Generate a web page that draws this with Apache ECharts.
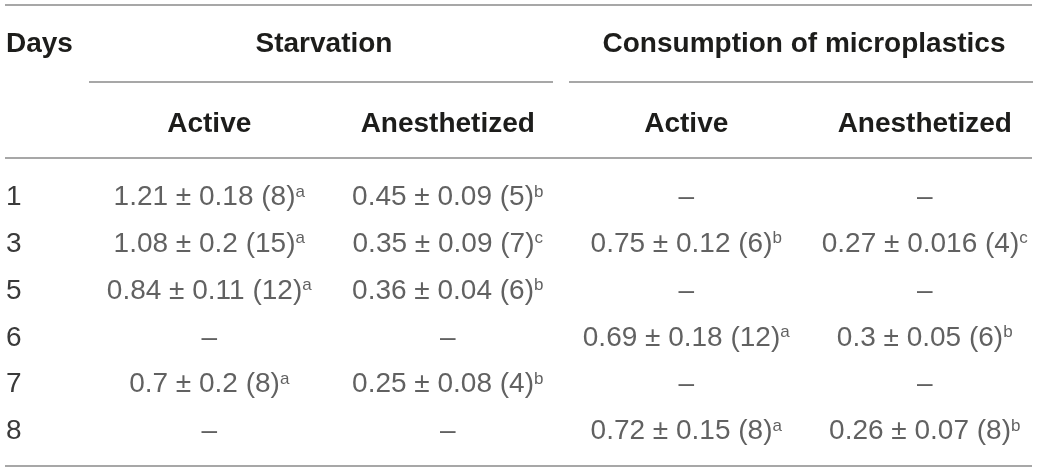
<!DOCTYPE html>
<html>
<head>
<meta charset="utf-8">
<script src="https://cdn.jsdelivr.net/npm/echarts@6/dist/echarts.min.js"></script>
<style>
    html, body { margin: 0; padding: 0; background: #ffffff; }
    #table_box { width: 1044px; height: 472px; }
</style>
</head>
<body>
<div id="table_box"></div>
<script>
//表格数据 - 开始
var days = ['1', '3', '5', '6', '7', '8'];                  //行：天数
var groups = ['Starvation', 'Consumption of microplastics']; //分组表头
var colKeys = ['st_act', 'st_ane', 'mp_act', 'mp_ane'];     //列
var subHeads = ['Active', 'Anesthetized', 'Active', 'Anesthetized'];

var stActMean = [1.21, 1.08, 0.84, null, 0.7, null];
var stActSd = [0.18, 0.2, 0.11, null, 0.2, null];
var stActN = [8, 15, 12, null, 8, null];
var stActSig = ['a', 'a', 'a', null, 'a', null];

var stAneMean = [0.45, 0.35, 0.36, null, 0.25, null];
var stAneSd = [0.09, 0.09, 0.04, null, 0.08, null];
var stAneN = [5, 7, 6, null, 4, null];
var stAneSig = ['b', 'c', 'b', null, 'b', null];

var mpActMean = [null, 0.75, null, 0.69, null, 0.72];
var mpActSd = [null, 0.12, null, 0.18, null, 0.15];
var mpActN = [null, 6, null, 12, null, 8];
var mpActSig = [null, 'b', null, 'a', null, 'a'];

var mpAneMean = [null, 0.27, null, 0.3, null, 0.26];
var mpAneSd = [null, 0.016, null, 0.05, null, 0.07];
var mpAneN = [null, 4, null, 6, null, 8];
var mpAneSig = [null, 'c', null, 'b', null, 'b'];
//表格数据 - 结束

var HEAD_FONT = 'Liberation Sans, Arial, sans-serif';
var BODY_FONT = 'Liberation Sans, Arial, sans-serif';
var BODY_COLOR = '#3a3a3a';
var HEAD_COLOR = '#1d1d1b';
var RULE_COLOR = '#8a8a8a';

var columns = [
    [stActMean, stActSd, stActN, stActSig],
    [stAneMean, stAneSd, stAneN, stAneSig],
    [mpActMean, mpActSd, mpActN, mpActSig],
    [mpAneMean, mpAneSd, mpAneN, mpAneSig]
];

var cells = [];     //[列, 行, 文本]
for (var c = 0; c < columns.length; c++) {
    for (var r = 0; r < days.length; r++) {
        var m = columns[c][0][r];
        var txt;
        if (m == null) {
            txt = '{v|–}';
        } else {
            txt = '{v|' + m + ' ± ' + columns[c][1][r] + ' (' + columns[c][2][r] + ')}{s|' + columns[c][3][r] + '}';
        }
        cells.push([c, r, txt]);
    }
}

function hRule(y) {     //横线
    return {
        type: 'line',
        shape: { x1: 5, y1: y, x2: 1032, y2: y },
        style: { stroke: RULE_COLOR, lineWidth: 1.5 },
        silent: true
    };
}

var chart = echarts.init(document.getElementById('table_box'));

var option = {
    backgroundColor: '#ffffff',
    animation: false,
    grid: [
        { left: 90, right: -6, top: 174, bottom: 17 },         //表体
        { left: 84, right: 0, top: 0, height: 100 }            //分组表头
    ],
    xAxis: [{
        type: 'category',
        gridIndex: 0,
        position: 'top',
        data: colKeys,
        axisLine: { show: false },
        axisTick: { show: false },
        axisLabel: {
            margin: 50,
            verticalAlign: 'middle',
            fontFamily: HEAD_FONT,
            fontWeight: 'bold',
            fontSize: 28,
            color: HEAD_COLOR,
            formatter: function (v, i) { return subHeads[i]; }
        }
    }, {
        type: 'category',
        gridIndex: 1,
        data: groups,
        show: false
    }],
    yAxis: [{
        type: 'category',
        gridIndex: 0,
        inverse: true,
        data: days,
        axisLine: { show: false },
        axisTick: { show: false },
        axisLabel: {
            align: 'left',
            margin: 84,
            fontFamily: BODY_FONT,
            fontSize: 28,
            color: BODY_COLOR
        }
    }, {
        type: 'value',
        gridIndex: 1,
        min: 0,
        max: 1,
        show: false
    }],
    series: [{
        type: 'scatter',
        xAxisIndex: 0,
        yAxisIndex: 0,
        symbolSize: 0,
        data: cells,
        label: {
            show: true,
            position: 'inside',
            formatter: function (p) { return p.data[2]; },
            rich: {
                v: { fontFamily: BODY_FONT, fontSize: 28, lineHeight: 28, color: BODY_COLOR },
                s: { fontFamily: BODY_FONT, fontSize: 17, lineHeight: 17, verticalAlign: 'top', color: BODY_COLOR }
            }
        }
    }, {
        type: 'custom',
        xAxisIndex: 1,
        yAxisIndex: 1,
        data: groups.map(function (g, i) { return [i]; }),
        renderItem: function (params, api) {
            var cx = api.coord([api.value(0), 0])[0];
            var band = api.size([1, 0])[0];
            return {
                type: 'group',
                children: [{
                    type: 'text',
                    style: {
                        text: groups[api.value(0)],
                        x: cx, y: 44,
                        align: 'center', verticalAlign: 'middle',
                        font: 'bold 28px ' + HEAD_FONT,
                        fill: HEAD_COLOR
                    }
                }, {
                    type: 'line',
                    shape: { x1: cx - band / 2 + 5, y1: 82, x2: cx + band / 2 - 11, y2: 82 },
                    style: { stroke: RULE_COLOR, lineWidth: 1.5 }
                }]
            };
        }
    }],
    graphic: [
        hRule(5),
        hRule(158),
        hRule(466),
        {
            type: 'text',
            left: 6,
            top: 30,
            style: {
                text: 'Days',
                font: 'bold 28px ' + HEAD_FONT,
                fill: HEAD_COLOR
            }
        }
    ]
};
chart.setOption(option);
</script>
</body>
</html>
